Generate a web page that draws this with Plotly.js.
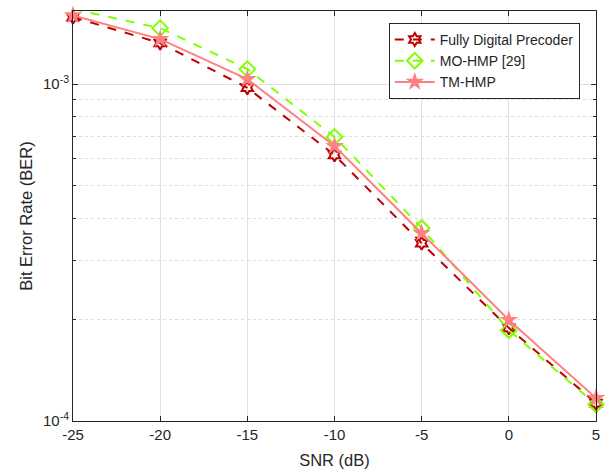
<!DOCTYPE html>
<html>
<head>
<meta charset="utf-8">
<script src="https://cdn.plot.ly/plotly-3.0.1.min.js"></script>
<style>html,body{margin:0;padding:0;background:#fff;}#chart{width:611px;height:473px;}</style>
</head>
<body>
<div id="chart"></div>
<script>
const snr = [-25, -20, -15, -10, -5, 0, 5];
const berFullyDigital = [1.58e-3, 1.324e-3, 0.975e-3, 6.16e-4, 3.37e-4, 1.89e-4, 1.13e-4];
const berMOHMP = [1.67e-3, 1.466e-3, 1.108e-3, 6.97e-4, 3.74e-4, 1.86e-4, 1.12e-4];
const berTMHMP = [1.60e-3, 1.36e-3, 1.035e-3, 6.55e-4, 3.61e-4, 1.995e-4, 1.17e-4];
const seriesNames = ['Fully Digital Precoder', 'MO-HMP [29]', 'TM-HMP'];
const xTicks = [-25, -20, -15, -10, -5, 0, 5];
const yTickVals = [1e-4, 1e-3];
const yTickText = ['10<sup>-4</sup>', '10<sup>-3</sup>'];
const yMinorVals = [2e-4, 3e-4, 4e-4, 5e-4, 6e-4, 7e-4, 8e-4, 9e-4];

const font = {family: 'Liberation Sans, Arial, sans-serif', color: '#262626'};
const traces = [
  {x: snr, y: berFullyDigital, name: seriesNames[0], mode: 'lines+markers', cliponaxis: false,
   line: {color: '#c00000', width: 2, dash: 'dash'},
   marker: {symbol: 'hexagram-open', size: 10, color: '#c00000', line: {width: 2, color: '#c00000'}}},
  {x: snr, y: berMOHMP, name: seriesNames[1], mode: 'lines+markers', cliponaxis: false,
   line: {color: '#80ff00', width: 2, dash: 'dash'},
   marker: {symbol: 'diamond-open', size: 12, color: '#80ff00', line: {width: 2, color: '#80ff00'}}},
  {x: snr, y: berTMHMP, name: seriesNames[2], mode: 'lines+markers', cliponaxis: false,
   line: {color: '#ff8080', width: 2},
   marker: {symbol: 'star', size: 14, color: '#ff8080', line: {width: 0}}}
];

const layout = {
  width: 611, height: 473,
  margin: {l: 73, r: 15, t: 11, b: 52},
  paper_bgcolor: '#fff', plot_bgcolor: '#fff',
  font: Object.assign({size: 14}, font),
  showlegend: true,
  legend: {x: 0.969, y: 0.971, xanchor: 'right', yanchor: 'top',
    bgcolor: '#fff', bordercolor: '#262626', borderwidth: 1,
    font: Object.assign({size: 14}, font), tracegroupgap: 0, itemwidth: 40},
  xaxis: {
    range: [-25, 5], tickvals: xTicks, ticktext: xTicks.map(String),
    showline: true, linecolor: '#262626', linewidth: 1, mirror: 'ticks',
    ticks: 'inside', ticklen: 5, tickcolor: '#262626',
    showgrid: true, gridcolor: '#e0e0e0', gridwidth: 1, zeroline: false,
    title: {text: 'SNR (dB)', font: Object.assign({size: 16.5}, font), standoff: 12},
    tickfont: Object.assign({size: 15}, font)
  },
  yaxis: {
    type: 'log', range: [-4, -2.783],
    tickvals: yTickVals, ticktext: yTickText,
    showline: true, linecolor: '#262626', linewidth: 1, mirror: 'ticks',
    ticks: 'inside', ticklen: 5, tickcolor: '#262626',
    showgrid: true, gridcolor: '#e0e0e0', gridwidth: 1, zeroline: false,
    minor: {tickvals: yMinorVals, ticks: 'inside', ticklen: 3, tickcolor: '#262626',
      showgrid: true, gridcolor: '#dcdcdc', griddash: 'dot', gridwidth: 1},
    title: {text: 'Bit Error Rate (BER)', font: Object.assign({size: 16.5}, font), standoff: 6},
    tickfont: Object.assign({size: 15}, font)
  }
};

Plotly.newPlot('chart', traces, layout, {displayModeBar: false, staticPlot: true});
</script>
</body>
</html>
